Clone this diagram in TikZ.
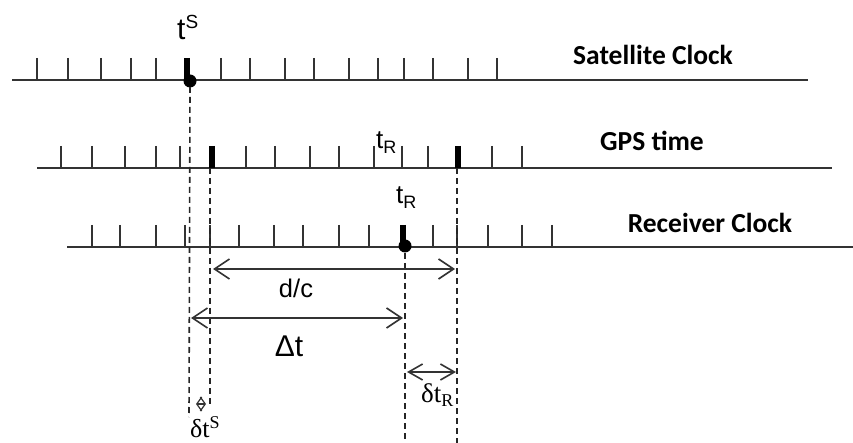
\documentclass[tikz,border=0pt]{standalone}
\usepackage{fontspec}
\setmainfont{Liberation Sans}
\newfontfamily\calfont{Carlito}
\newfontfamily\timesfont{Liberation Serif}
\usetikzlibrary{arrows.meta}
\tikzset{
  axisline/.style={line width=1.6pt, draw=black!80},
  smalltick/.style={line width=1.3pt, draw=black!80},
  bigtick/.style={line width=5.5pt, draw=black},
  dotnode/.style={circle, fill=black, inner sep=0pt, minimum size=13pt},
  guide/.style={line width=1.6pt, draw=black!85, dash pattern=on 6pt off 4pt},
  dim/.style={line width=1.6pt, draw=black!80, {Straight Barb[length=15pt,width=20pt,line width=1.6pt]}-{Straight Barb[length=15pt,width=20pt,line width=1.6pt]}},
  tinydim/.style={line width=1.2pt, draw=black!80, {Straight Barb[length=5pt,width=14pt,line width=1.2pt]}-{Straight Barb[length=5pt,width=14pt,line width=1.2pt]}},
  clocklabel/.style={font=\calfont\bfseries\fontsize{27.5}{30}\selectfont, inner sep=0pt},
  sanslabel/.style={inner sep=0pt},
  seriflabel/.style={font=\timesfont, inner sep=0pt}
}
\begin{document}
\begin{tikzpicture}[x=1pt,y=-1pt]
\useasboundingbox (0,0) rectangle (853,443);

% ---- Satellite clock
\draw[axisline] (12,80) -- (808,80);
\foreach \x in {37,68,101,131,156,221,250,285,314,349,378,404,433,468,497}
  \draw[smalltick] (\x,58) -- (\x,80);
\draw[bigtick] (187,58) -- (187,80);
\node[dotnode] (sdot) at (190,81) {};
\node[sanslabel, anchor=base west] (tS) at (177,40) {\fontsize{30}{32}\selectfont t\raisebox{11pt}{\fontsize{19}{21}\selectfont S}};
\node[clocklabel] (satlabel) at (653,55) {Satellite Clock};

% ---- GPS time
\draw[axisline] (37,168) -- (832,168);
\foreach \x in {61,92,125,156,180,246,275,310,339,374,402,428,492,522}
  \draw[smalltick] (\x,146) -- (\x,168);
\draw[bigtick] (212,146) -- (212,168);
\draw[bigtick] (458,146) -- (458,168);
\coordinate (g1) at (210,168);
\coordinate (g2) at (457,168);
\node[sanslabel, anchor=base west] (tRg) at (376,149) {\fontsize{26}{28}\selectfont t\raisebox{-5pt}{\fontsize{18}{20}\selectfont R}};
\node[clocklabel] (gpslabel) at (652,141) {GPS time};

% ---- Receiver clock
\draw[axisline] (67,247) -- (853,247);
\foreach \x in {92,120,156,185,210,239,274,303,339,369,433,457,488,522,552}
  \draw[smalltick] (\x,225) -- (\x,247);
\draw[bigtick] (403,225) -- (403,247);
\node[dotnode] (rdot) at (405,246) {};
\node[sanslabel, anchor=base west] (tRr) at (396,204) {\fontsize{26}{28}\selectfont t\raisebox{-5pt}{\fontsize{18}{20}\selectfont R}};
\node[clocklabel] (reclabel) at (710,223) {Receiver Clock};

% ---- guide lines
\coordinate (e1) at (189,417);
\coordinate (e2) at (210,407);
\coordinate (e3) at (405,443);
\coordinate (e4) at (457,443);
\draw[guide] (sdot.center) ++(0,6) -- (e1);
\draw[guide] (g1) -- (e2);
\draw[guide] (rdot.center) ++(0,7) -- (e3);
\draw[guide] (g2) -- (e4);

% ---- dimensions
\coordinate (dcL) at (213,269);
\coordinate (dcR) at (455,269);
\draw[dim] (dcL) -- (dcR);
\node[sanslabel] (dclabel) at (296,288) {\fontsize{25.5}{28}\selectfont d/c};

\coordinate (dtL) at (191,318);
\coordinate (dtR) at (403,318);
\draw[dim] (dtL) -- (dtR);
\node[sanslabel] (dtlabel) at (289,346) {\fontsize{30}{32}\selectfont Δt};

\coordinate (drL) at (407,372);
\coordinate (drR) at (456,372);
\draw[dim, {Straight Barb[length=14pt,width=16pt,line width=1.6pt]}-{Straight Barb[length=14pt,width=16pt,line width=1.6pt]}] (drL) -- (drR);
\node[seriflabel, anchor=base west] (drlabel) at (421,402) {\fontsize{27}{30}\selectfont δt\raisebox{-4pt}{\fontsize{18}{20}\selectfont R}};

\coordinate (dsL) at (196,404);
\coordinate (dsR) at (206,404);
\draw[tinydim] (dsL) -- (dsR);
\node[seriflabel, anchor=base west] (dslabel) at (190,437) {\fontsize{26}{28}\selectfont δt\raisebox{9pt}{\fontsize{18}{20}\selectfont S}};
\end{tikzpicture}
\end{document}
